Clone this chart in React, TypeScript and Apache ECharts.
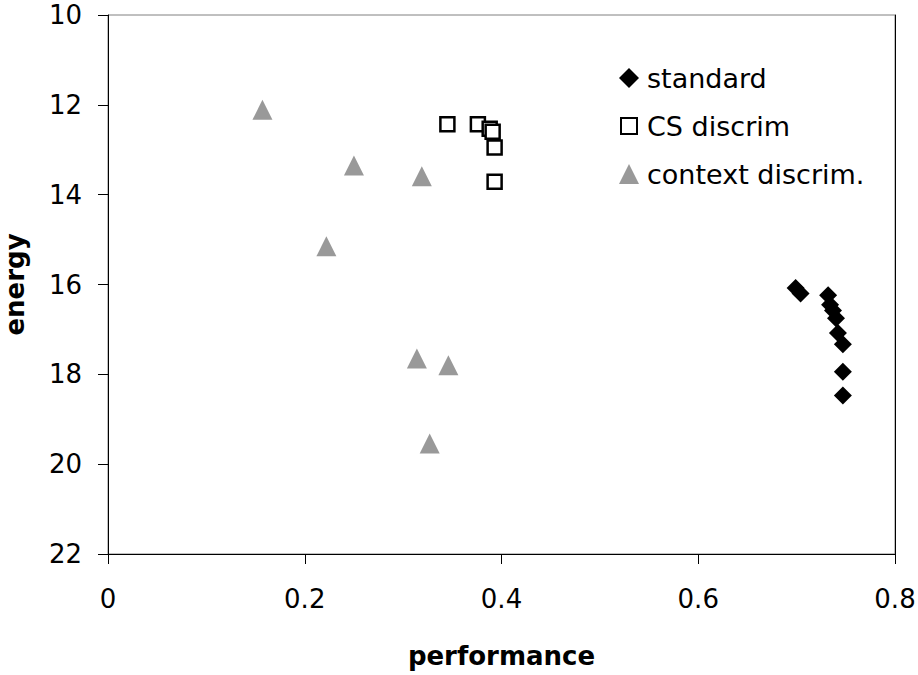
import React, { useEffect, useRef } from "react";
import * as echarts from "echarts";

const seriesNames = ["standard", "CS discrim", "context discrim."];

const standardX = [0.699, 0.704, 0.732, 0.734, 0.737, 0.74, 0.742, 0.747, 0.747, 0.747];
const standardY = [16.08, 16.2, 16.24, 16.45, 16.58, 16.75, 17.08, 17.33, 17.94, 18.47];

const csX = [0.345, 0.376, 0.388, 0.391, 0.393, 0.393];
const csY = [12.43, 12.43, 12.53, 12.6, 12.95, 13.71];

const ctxX = [0.157, 0.25, 0.319, 0.222, 0.314, 0.346, 0.327];
const ctxY = [12.11, 13.35, 13.59, 15.15, 17.65, 17.8, 19.54];

const xTicks = [0, 0.2, 0.4, 0.6, 0.8];
const yTicks = [10, 12, 14, 16, 18, 20, 22];

const pair = (xs: number[], ys: number[]) => xs.map((x, i) => [x, ys[i]]);

const FONT = "DejaVu Sans";

export default function App() {
  const ref = useRef<HTMLDivElement>(null);
  useEffect(() => {
    document.body.style.margin = "0";
    const chart = echarts.init(ref.current!, undefined, { renderer: "svg" });
    chart.setOption({
      animation: false,
      backgroundColor: "#ffffff",
      textStyle: { fontFamily: FONT },
      grid: {
        left: 108,
        right: 23,
        top: 15,
        bottom: 121,
        show: true,
        borderColor: "#808080",
        borderWidth: 1,
        outerBoundsMode: "none",
        containLabel: false,
      },
      legend: {
        orient: "vertical",
        left: 618,
        top: 63,
        padding: 0,
        itemWidth: 20,
        itemHeight: 20,
        itemGap: 18,
        textStyle: {
          fontFamily: FONT,
          fontSize: 27,
          color: "#000",
          lineHeight: 30,
          padding: [0, 0, 0, 3],
        },
        data: [
          { name: seriesNames[0], icon: "diamond" },
          { name: seriesNames[1], icon: "path://M0,0M20,20M2,2L18,2L18,18L2,18Z" },
          { name: seriesNames[2], icon: "triangle" },
        ],
      },
      xAxis: {
        type: "value",
        min: xTicks[0],
        max: xTicks[xTicks.length - 1],
        interval: 0.2,
        name: "performance",
        nameLocation: "middle",
        nameGap: 89,
        nameTextStyle: { fontFamily: FONT, fontSize: 26, fontWeight: "bold", color: "#000" },
        axisLine: { show: true, lineStyle: { color: "#000", width: 1 } },
        axisTick: { show: true, inside: false, length: 10, lineStyle: { color: "#000" } },
        axisLabel: {
          fontFamily: FONT,
          fontSize: 26,
          color: "#000",
          margin: 32,
          formatter: (v: number) => String(Math.round(v * 10) / 10),
        },
        splitLine: { show: false },
      },
      yAxis: [
        {
          type: "value",
          inverse: true,
          min: yTicks[0],
          max: yTicks[yTicks.length - 1],
          interval: 2,
          name: "energy",
          nameLocation: "middle",
          nameGap: 80,
          nameRotate: 90,
          nameTextStyle: { fontFamily: FONT, fontSize: 26, fontWeight: "bold", color: "#000" },
          axisLine: { show: true, onZero: false, lineStyle: { color: "#000", width: 1 } },
          axisTick: { show: true, inside: false, length: 10, lineStyle: { color: "#000" } },
          axisLabel: { fontFamily: FONT, fontSize: 26, color: "#000", margin: 26 },
          splitLine: { show: false },
        },
        {
          type: "value",
          position: "right",
          inverse: true,
          min: yTicks[0],
          max: yTicks[yTicks.length - 1],
          interval: 2,
          axisLine: { show: true, onZero: false, lineStyle: { color: "#000", width: 1 } },
          axisTick: { show: false },
          axisLabel: { show: false },
          splitLine: { show: false },
        },
      ],
      series: [
        {
          name: seriesNames[0],
          type: "scatter",
          symbol: "diamond",
          symbolSize: 18,
          itemStyle: { color: "#000000", opacity: 1 },
          data: pair(standardX, standardY),
        },
        {
          name: seriesNames[1],
          type: "scatter",
          symbol: "rect",
          symbolSize: 14,
          itemStyle: { color: "#ffffff", borderColor: "#000000", borderWidth: 2.5, opacity: 1 },
          data: pair(csX, csY),
        },
        {
          name: seriesNames[2],
          type: "scatter",
          symbol: "triangle",
          symbolSize: 20,
          itemStyle: { color: "#999999", opacity: 1 },
          data: pair(ctxX, ctxY),
        },
      ],
    });
    return () => chart.dispose();
  }, []);
  return <div ref={ref} style={{ width: 918, height: 675 }} />;
}
